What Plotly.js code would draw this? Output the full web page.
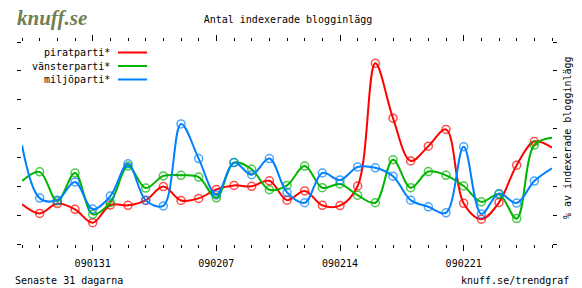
<!DOCTYPE html>
<html>
<head>
<meta charset="utf-8">
<script src="https://cdn.plot.ly/plotly-3.0.1.min.js"></script>
<style>html,body{margin:0;padding:0;background:#fff;}#chart{width:582px;height:288px;}</style>
</head>
<body>
<div id="chart"></div>
<script>
// Dates (31 days, yymmdd)
const dates = ['090127','090128','090129','090130','090131',
  '090201','090202','090203','090204','090205','090206','090207','090208','090209','090210',
  '090211','090212','090213','090214','090215','090216','090217','090218','090219','090220',
  '090221','090222','090223','090224','090225','090226'];
const tickDates = ['090131','090207','090214','090221'];
const seriesNames = ['piratparti*','vänsterparti*','miljöparti*'];
const seriesColors = ['#ff0000','#00b400','#0080ff'];

const pirat = [1.38,1.06,1.40,1.20,0.74,1.35,1.34,1.51,1.99,1.51,1.58,1.89,2.03,2.00,2.19,1.52,
  1.84,1.34,1.33,2.01,6.26,4.36,2.88,3.39,3.97,1.41,0.86,1.44,2.73,3.55,3.34];
const vanster = [2.18,2.50,1.49,2.46,1.03,1.44,2.70,1.94,2.36,2.38,2.32,1.60,2.82,2.59,1.88,2.03,
  2.70,1.95,2.08,1.69,1.43,2.92,1.95,2.51,2.38,2.01,1.46,1.72,0.88,3.43,3.68];
const miljo = [3.42,1.59,1.52,2.15,1.21,1.66,2.78,1.52,1.32,4.16,2.96,1.70,2.82,2.40,2.96,1.79,
  1.43,2.46,2.22,2.67,2.64,2.35,1.52,1.29,1.08,3.37,1.04,1.75,1.42,2.18,2.62];

const titleText = 'Antal indexerade blogginlägg';
const yTitle = '% av indexerade blogginlägg';
const footLeft = 'Senaste 31 dagarna';
const footRight = 'knuff.se/trendgraf';
const logoText = 'knuff.se';

// geometry helpers (pixel -> paper)
const W = 582, H = 288, L = 22, R = 30, T = 42, B = 44;
const pw = W - L - R, ph = H - T - B;
const px = X => (X - L) / pw;
const py = Y => (H - B - Y) / ph;

const mono = 'DejaVu Sans Mono, monospace';
const xs = dates.map((d, i) => i);
const allSeries = [pirat, vanster, miljo];

const traces = allSeries.map((vals, k) => ({
  x: xs, y: vals, type: 'scatter', mode: 'lines+markers',
  line: {color: seriesColors[k], width: 2, shape: 'spline', smoothing: 1},
  marker: {symbol: 'circle-open', color: seriesColors[k],
           size: vals.map((v, i) => (i === 0 || i === vals.length - 1) ? 0 : 8),
           line: {width: 1.5, color: seriesColors[k]}},
  name: seriesNames[k], hoverinfo: 'skip', showlegend: false
}));

const annotations = [];
const shapes = [];
// legend
const legY = [52.5, 66, 79.5];
seriesNames.forEach((n, k) => {
  annotations.push({xref: 'paper', yref: 'paper', x: px(112), y: py(legY[k]), xanchor: 'right', yanchor: 'middle',
    text: n, showarrow: false, font: {family: mono, size: 10, color: '#000'}});
  shapes.push({type: 'line', xref: 'paper', yref: 'paper', x0: px(118), x1: px(147), y0: py(legY[k]), y1: py(legY[k]),
    line: {color: seriesColors[k], width: 2}});
});
annotations.push({xref: 'paper', yref: 'paper', x: px(567), y: py(138), xanchor: 'center', yanchor: 'middle',
  textangle: -90, text: yTitle, showarrow: false, font: {family: mono, size: 10, color: '#000'}});
annotations.push({xref: 'paper', yref: 'paper', x: px(13), y: py(280), xanchor: 'left', yanchor: 'middle',
  text: footLeft, showarrow: false, font: {family: mono, size: 10, color: '#000'}});
annotations.push({xref: 'paper', yref: 'paper', x: px(571), y: py(280), xanchor: 'right', yanchor: 'middle',
  text: footRight, showarrow: false, font: {family: mono, size: 10, color: '#000'}});
annotations.push({xref: 'paper', yref: 'paper', x: px(15), y: py(18), xanchor: 'left', yanchor: 'middle',
  text: '<b><i>' + logoText + '</i></b>', showarrow: false,
  font: {family: 'Liberation Serif, serif', size: 21, color: '#6f7f52'}});

const layout = {
  width: W, height: H,
  margin: {l: L, r: R, t: T, b: B, pad: 0},
  paper_bgcolor: '#fff', plot_bgcolor: '#fff',
  showlegend: false,
  title: {text: titleText, x: 288 / W, xanchor: 'center', xref: 'container',
          y: 1 - 19 / H, yanchor: 'middle', yref: 'container',
          font: {family: mono, size: 10, color: '#000'}},
  xaxis: {range: [0, 30], showgrid: false, zeroline: false, showline: false,
          tickmode: 'array', tickvals: tickDates.map(d => dates.indexOf(d)), ticktext: tickDates,
          ticks: 'outside', ticklen: 6, tickwidth: 1, tickcolor: '#000', mirror: 'ticks',
          ticklabelstandoff: 4,
          minor: {tickmode: 'linear', tick0: 0, dtick: 1, ticks: 'outside', ticklen: 3, tickwidth: 1, tickcolor: '#000', showgrid: false},
          tickfont: {family: mono, size: 10, color: '#000'}, fixedrange: true},
  yaxis: {range: [0, 7], showgrid: false, zeroline: false, showline: false,
          tickmode: 'linear', tick0: 0, dtick: 1, showticklabels: false,
          ticks: 'outside', ticklen: 4, tickwidth: 1, tickcolor: '#000', mirror: 'ticks', fixedrange: true},
  annotations: annotations,
  shapes: shapes
};

Plotly.newPlot('chart', traces, layout, {displayModeBar: false, staticPlot: true});
</script>
</body>
</html>
